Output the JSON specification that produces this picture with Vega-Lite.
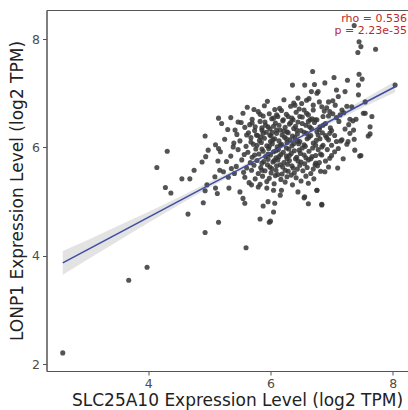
{
 "$schema": "https://vega.github.io/schema/vega-lite/v6.json",
 "width": 381,
 "height": 361,
 "autosize": "none",
 "padding": {"left": 46.5, "top": 10, "right": 0, "bottom": 39},
 "background": "white",
 "config": {"view": {"stroke": "#555555", "strokeWidth": 1}, "font": "DejaVu Sans"},
 "datasets": {
  "band": [
   {"x": 2.60, "fit": 3.87, "lo": 3.65, "hi": 4.09},
   {"x": 3.0, "fit": 4.11, "lo": 3.93, "hi": 4.29},
   {"x": 3.5, "fit": 4.41, "lo": 4.27, "hi": 4.55},
   {"x": 4.0, "fit": 4.71, "lo": 4.61, "hi": 4.81},
   {"x": 4.5, "fit": 5.01, "lo": 4.94, "hi": 5.08},
   {"x": 5.0, "fit": 5.31, "lo": 5.26, "hi": 5.36},
   {"x": 5.5, "fit": 5.60, "lo": 5.56, "hi": 5.64},
   {"x": 6.0, "fit": 5.90, "lo": 5.865, "hi": 5.935},
   {"x": 6.5, "fit": 6.20, "lo": 6.16, "hi": 6.24},
   {"x": 7.0, "fit": 6.50, "lo": 6.45, "hi": 6.55},
   {"x": 7.5, "fit": 6.80, "lo": 6.73, "hi": 6.87},
   {"x": 8.04, "fit": 7.12, "lo": 7.02, "hi": 7.22}
  ],
  "points": [
   {"x":2.60,"y":2.21},{"x":3.68,"y":3.55},{"x":3.98,"y":3.79},
   {"x":7.37,"y":8.25},{"x":7.45,"y":7.95},{"x":7.48,"y":7.86},{"x":7.43,"y":7.75},{"x":7.72,"y":7.81},
   {"x":6.69,"y":7.40},{"x":7.04,"y":7.29},{"x":7.45,"y":7.35},{"x":7.50,"y":7.26},{"x":7.26,"y":7.24},
   {"x":6.36,"y":7.15},{"x":6.56,"y":7.15},{"x":6.72,"y":7.16},{"x":6.89,"y":7.19},{"x":8.04,"y":7.15},{"x":7.44,"y":7.15},{"x":7.08,"y":7.06},{"x":7.22,"y":7.03},
   {"x":5.15,"y":6.54},{"x":4.31,"y":5.93},{"x":4.14,"y":5.63},{"x":4.93,"y":6.21},{"x":7.63,"y":6.25},{"x":7.66,"y":6.57},{"x":7.52,"y":6.63},{"x":7.46,"y":5.84},{"x":7.35,"y":6.49},
   {"x":4.65,"y":4.77},{"x":5.15,"y":4.62},{"x":4.93,"y":4.43},{"x":5.60,"y":4.15},{"x":4.90,"y":4.98},{"x":4.28,"y":5.26},{"x":4.37,"y":5.16},{"x":4.55,"y":5.42},{"x":4.68,"y":5.42},
   {"x":6.84,"y":4.95},{"x":6.62,"y":4.96},{"x":6.55,"y":5.07},{"x":5.83,"y":4.68},{"x":6.00,"y":4.64},{"x":6.05,"y":4.81},{"x":5.88,"y":4.92},{"x":5.96,"y":5.00},
   {"x":4.98,"y":5.95},{"x":4.94,"y":5.83},{"x":5.15,"y":5.98},{"x":4.88,"y":5.73},{"x":5.14,"y":5.75},{"x":4.75,"y":5.58},{"x":4.96,"y":5.31},{"x":5.10,"y":5.25},{"x":4.93,"y":5.20},{"x":5.13,"y":5.15},{"x":5.09,"y":5.46},{"x":5.17,"y":5.58},{"x":5.23,"y":5.55},{"x":5.31,"y":5.45},{"x":5.36,"y":5.61},{"x":5.32,"y":5.25},{"x":5.39,"y":6.01},{"x":5.41,"y":5.52},
   {"x":6.45,"y":6.91},{"x":6.51,"y":6.81},{"x":6.40,"y":6.78},{"x":6.59,"y":6.87},{"x":6.67,"y":7.03},{"x":6.76,"y":7.00},{"x":5.73,"y":6.70},{"x":5.83,"y":6.61},{"x":6.07,"y":6.70},{"x":6.10,"y":6.60},{"x":6.05,"y":6.54},{"x":5.47,"y":6.47},{"x":5.42,"y":6.32},{"x":5.75,"y":6.38},{"x":5.86,"y":6.32},{"x":5.96,"y":6.38},{"x":6.10,"y":6.32},{"x":6.21,"y":6.51},{"x":6.29,"y":6.57},{"x":6.37,"y":6.51},{"x":6.48,"y":6.57},{"x":6.59,"y":6.63},{"x":6.70,"y":6.69},{"x":6.65,"y":6.51},{"x":6.76,"y":6.51},{"x":5.61,"y":6.23},{"x":5.77,"y":6.23},{"x":5.99,"y":6.23},{"x":6.27,"y":6.29},{"x":6.43,"y":6.32},{"x":6.59,"y":6.26},{"x":6.76,"y":6.29},
   {"x":6.95,"y":6.84},{"x":7.11,"y":6.94},{"x":6.78,"y":7.03},{"x":7.44,"y":6.97},{"x":7.55,"y":6.84},{"x":7.33,"y":6.75},{"x":6.84,"y":6.75},{"x":7.06,"y":6.78},{"x":7.17,"y":6.69},{"x":6.97,"y":6.66},{"x":7.14,"y":6.60},{"x":6.86,"y":6.57},{"x":7.30,"y":6.52},{"x":7.55,"y":6.63},{"x":7.63,"y":6.38},{"x":7.36,"y":6.32},{"x":6.73,"y":6.51},{"x":6.81,"y":6.38},{"x":6.97,"y":6.26},{"x":6.78,"y":6.23},
   {"x":6.95,"y":6.14},{"x":7.08,"y":6.11},{"x":7.17,"y":6.14},{"x":7.27,"y":6.11},{"x":7.37,"y":6.15},{"x":7.60,"y":6.21},{"x":6.84,"y":6.01},{"x":7.00,"y":6.04},{"x":7.11,"y":5.98},{"x":7.38,"y":5.95},{"x":7.48,"y":5.85},{"x":7.19,"y":5.79},{"x":6.84,"y":5.86},{"x":6.97,"y":5.80},{"x":6.95,"y":5.64},{"x":6.89,"y":5.55},{"x":6.76,"y":5.21},{"x":6.84,"y":4.94},{"x":6.73,"y":5.68},
   {"x":5.98,"y":4.62},{"x":6.07,"y":4.97},{"x":5.55,"y":5.06},{"x":5.58,"y":4.97},{"x":5.50,"y":5.18},{"x":6.16,"y":5.12},{"x":6.18,"y":5.21},{"x":6.05,"y":5.21},{"x":5.94,"y":5.25},{"x":5.80,"y":5.27},{"x":5.69,"y":5.31},{"x":6.45,"y":5.18},{"x":6.56,"y":5.09},{"x":6.76,"y":5.21},
   {"x":5.95,"y":6.85},{"x":6.22,"y":6.88},{"x":6.38,"y":6.82},{"x":6.63,"y":6.90},{"x":6.80,"y":6.84},{"x":7.02,"y":6.86},
   {"x":5.62,"y":6.74},{"x":5.90,"y":6.77},{"x":6.15,"y":6.72},{"x":6.33,"y":6.76},{"x":6.47,"y":6.71},{"x":6.70,"y":6.78},{"x":6.92,"y":6.73},{"x":7.25,"y":6.76},
   {"x":5.55,"y":6.63},{"x":5.80,"y":6.66},{"x":5.98,"y":6.62},{"x":6.18,"y":6.68},{"x":6.26,"y":6.61},{"x":6.42,"y":6.65},{"x":6.55,"y":6.69},{"x":6.62,"y":6.60},{"x":6.88,"y":6.67},{"x":7.02,"y":6.62},{"x":7.20,"y":6.64},
   {"x":5.35,"y":6.55},{"x":5.70,"y":6.52},{"x":5.88,"y":6.58},{"x":6.02,"y":6.53},{"x":6.12,"y":6.57},{"x":6.35,"y":6.54},{"x":6.52,"y":6.56},{"x":6.68,"y":6.53},{"x":6.95,"y":6.58},{"x":7.08,"y":6.55},{"x":7.40,"y":6.52},
   {"x":5.20,"y":6.44},{"x":5.52,"y":6.46},{"x":5.66,"y":6.42},{"x":5.83,"y":6.48},{"x":5.92,"y":6.41},{"x":6.08,"y":6.45},{"x":6.20,"y":6.49},{"x":6.31,"y":6.43},{"x":6.45,"y":6.47},{"x":6.58,"y":6.41},{"x":6.72,"y":6.46},{"x":6.90,"y":6.44},{"x":7.12,"y":6.48},{"x":7.28,"y":6.42},
   {"x":5.30,"y":6.33},{"x":5.58,"y":6.37},{"x":5.74,"y":6.31},{"x":5.86,"y":6.36},{"x":5.99,"y":6.34},{"x":6.05,"y":6.39},{"x":6.16,"y":6.32},{"x":6.24,"y":6.37},{"x":6.38,"y":6.35},{"x":6.50,"y":6.31},{"x":6.64,"y":6.38},{"x":6.80,"y":6.33},{"x":6.98,"y":6.36},{"x":7.22,"y":6.34},
   {"x":5.45,"y":6.24},{"x":5.64,"y":6.27},{"x":5.79,"y":6.22},{"x":5.93,"y":6.28},{"x":6.01,"y":6.21},{"x":6.10,"y":6.26},{"x":6.19,"y":6.23},{"x":6.29,"y":6.27},{"x":6.36,"y":6.21},{"x":6.44,"y":6.25},{"x":6.55,"y":6.28},{"x":6.66,"y":6.22},{"x":6.85,"y":6.27},{"x":7.05,"y":6.22},{"x":7.30,"y":6.26},
   {"x":5.25,"y":6.15},{"x":5.50,"y":6.12},{"x":5.68,"y":6.18},{"x":5.82,"y":6.13},{"x":5.90,"y":6.17},{"x":6.00,"y":6.11},{"x":6.07,"y":6.16},{"x":6.14,"y":6.12},{"x":6.23,"y":6.19},{"x":6.32,"y":6.14},{"x":6.40,"y":6.18},{"x":6.48,"y":6.11},{"x":6.60,"y":6.16},{"x":6.75,"y":6.13},{"x":6.92,"y":6.18},{"x":7.15,"y":6.12},
   {"x":5.10,"y":6.05},{"x":5.40,"y":6.08},{"x":5.60,"y":6.02},{"x":5.72,"y":6.06},{"x":5.85,"y":6.09},{"x":5.94,"y":6.03},{"x":6.03,"y":6.07},{"x":6.11,"y":6.01},{"x":6.18,"y":6.06},{"x":6.27,"y":6.09},{"x":6.35,"y":6.03},{"x":6.46,"y":6.07},{"x":6.57,"y":6.02},{"x":6.70,"y":6.08},{"x":6.86,"y":6.04},{"x":7.25,"y":6.06},
   {"x":5.18,"y":5.92},{"x":5.47,"y":5.96},{"x":5.63,"y":5.91},{"x":5.76,"y":5.97},{"x":5.88,"y":5.93},{"x":5.97,"y":5.98},{"x":6.05,"y":5.92},{"x":6.13,"y":5.96},{"x":6.21,"y":5.91},{"x":6.30,"y":5.97},{"x":6.39,"y":5.94},{"x":6.52,"y":5.99},{"x":6.63,"y":5.93},{"x":6.78,"y":5.96},{"x":7.05,"y":5.92},
   {"x":5.35,"y":5.84},{"x":5.57,"y":5.87},{"x":5.70,"y":5.82},{"x":5.81,"y":5.88},{"x":5.92,"y":5.83},{"x":6.00,"y":5.86},{"x":6.09,"y":5.81},{"x":6.17,"y":5.87},{"x":6.26,"y":5.84},{"x":6.34,"y":5.89},{"x":6.43,"y":5.82},{"x":6.55,"y":5.86},{"x":6.68,"y":5.83},{"x":6.82,"y":5.88},{"x":7.00,"y":5.85},
   {"x":5.28,"y":5.74},{"x":5.53,"y":5.77},{"x":5.67,"y":5.72},{"x":5.78,"y":5.76},{"x":5.86,"y":5.71},{"x":5.96,"y":5.78},{"x":6.04,"y":5.73},{"x":6.12,"y":5.77},{"x":6.22,"y":5.72},{"x":6.31,"y":5.76},{"x":6.41,"y":5.79},{"x":6.50,"y":5.73},{"x":6.62,"y":5.77},{"x":6.74,"y":5.71},{"x":6.90,"y":5.75},
   {"x":5.44,"y":5.65},{"x":5.61,"y":5.62},{"x":5.73,"y":5.67},{"x":5.84,"y":5.63},{"x":5.95,"y":5.68},{"x":6.02,"y":5.61},{"x":6.10,"y":5.66},{"x":6.20,"y":5.64},{"x":6.28,"y":5.69},{"x":6.37,"y":5.62},{"x":6.48,"y":5.67},{"x":6.60,"y":5.63},{"x":6.77,"y":5.66},{"x":7.10,"y":5.62},
   {"x":5.56,"y":5.54},{"x":5.69,"y":5.58},{"x":5.80,"y":5.52},{"x":5.91,"y":5.57},{"x":6.01,"y":5.53},{"x":6.09,"y":5.58},{"x":6.19,"y":5.51},{"x":6.29,"y":5.56},{"x":6.39,"y":5.53},{"x":6.53,"y":5.57},{"x":6.66,"y":5.52},{"x":6.82,"y":5.56},
   {"x":5.58,"y":5.45},{"x":5.75,"y":5.42},{"x":5.87,"y":5.47},{"x":5.98,"y":5.43},{"x":6.08,"y":5.48},{"x":6.17,"y":5.41},{"x":6.27,"y":5.46},{"x":6.42,"y":5.44},{"x":6.58,"y":5.47},{"x":6.71,"y":5.42},
   {"x":5.65,"y":5.35},{"x":5.83,"y":5.32},{"x":5.94,"y":5.37},{"x":6.06,"y":5.33},{"x":6.24,"y":5.36},{"x":6.36,"y":5.31},{"x":6.50,"y":5.38},{"x":6.62,"y":5.34},
   {"x":5.91,"y":6.47},{"x":6.14,"y":6.41},{"x":6.33,"y":6.46},{"x":6.52,"y":6.44},{"x":6.67,"y":6.35},{"x":6.41,"y":6.39},{"x":6.22,"y":6.30},{"x":6.03,"y":6.28},
   {"x":5.84,"y":6.19},{"x":6.04,"y":6.14},{"x":6.26,"y":6.16},{"x":6.44,"y":6.12},{"x":6.63,"y":6.19},{"x":6.81,"y":6.16},{"x":6.16,"y":6.04},{"x":6.38,"y":6.07},
   {"x":6.55,"y":6.05},{"x":5.98,"y":6.02},{"x":5.78,"y":6.04},{"x":6.09,"y":5.94},{"x":6.26,"y":5.99},{"x":6.47,"y":5.95},{"x":6.69,"y":5.99},{"x":5.86,"y":5.97},
   {"x":5.96,"y":5.88},{"x":6.14,"y":5.83},{"x":6.31,"y":5.85},{"x":6.49,"y":5.89},{"x":6.74,"y":5.85},{"x":5.74,"y":5.86},{"x":6.06,"y":5.76},{"x":6.27,"y":5.79},
   {"x":6.45,"y":5.75},{"x":6.66,"y":5.79},{"x":5.89,"y":5.74},{"x":6.16,"y":5.68},{"x":6.35,"y":5.66},{"x":6.56,"y":5.70},{"x":5.99,"y":5.64},{"x":6.24,"y":5.58},
   {"x":6.44,"y":5.60},{"x":6.12,"y":5.50},{"x":6.34,"y":5.49},{"x":5.86,"y":5.58},{"x":6.62,"y":6.48},{"x":6.86,"y":6.41},{"x":7.00,"y":6.31},{"x":6.90,"y":6.22},
   {"x":5.70,"y":6.45},{"x":5.88,"y":6.26},{"x":5.68,"y":6.10},{"x":6.74,"y":6.04},{"x":6.93,"y":5.96},{"x":6.58,"y":5.81},{"x":6.80,"y":5.72},{"x":6.70,"y":5.60}
  ]
 },
 "layer": [
  {
   "data": {"name": "band"},
   "mark": {"type": "area", "color": "#c8c8c8", "opacity": 0.5},
   "encoding": {
    "x": {"field": "x", "type": "quantitative", "title": "SLC25A10 Expression Level (log2 TPM)",
     "scale": {"domain": [2.334, 8.57], "nice": false, "zero": false},
     "axis": {"values": [4, 6, 8], "format": "d", "grid": false, "domainColor": "#555555", "tickColor": "#555555", "tickSize": 4,
      "labelFontSize": 12.5, "labelColor": "#4d4d4d", "labelPadding": 2, "titleFontSize": 17, "titleColor": "#222222",
      "titleFontWeight": "normal", "titlePadding": 3}},
    "y": {"field": "lo", "type": "quantitative", "title": "LONP1 Expression Level (log2 TPM)",
     "scale": {"domain": [1.876, 8.535], "nice": false, "zero": false},
     "axis": {"values": [2, 4, 6, 8], "format": "d", "grid": false, "domainColor": "#555555", "tickColor": "#555555", "tickSize": 4,
      "labelFontSize": 12.5, "labelColor": "#4d4d4d", "labelPadding": 3, "titleFontSize": 17, "titleColor": "#222222",
      "titleFontWeight": "normal", "titlePadding": 5}},
    "y2": {"field": "hi"}
   }
  },
  {
   "data": {"name": "points"},
   "mark": {"type": "circle", "size": 26, "color": "#363636", "opacity": 0.85},
   "encoding": {
    "x": {"field": "x", "type": "quantitative", "title": "SLC25A10 Expression Level (log2 TPM)"},
    "y": {"field": "y", "type": "quantitative", "title": "LONP1 Expression Level (log2 TPM)"}
   }
  },
  {
   "data": {"name": "band"},
   "mark": {"type": "line", "color": "#3F4FA3", "strokeWidth": 1.6},
   "encoding": {
    "x": {"field": "x", "type": "quantitative", "title": "SLC25A10 Expression Level (log2 TPM)"},
    "y": {"field": "fit", "type": "quantitative", "title": "LONP1 Expression Level (log2 TPM)"}
   }
  },
  {
   "data": {"values": [{"label": "rho = 0.536\np = 2.23e-35"}]},
   "mark": {"type": "text", "align": "right", "baseline": "top", "lineBreak": "\n", "fontSize": 11, "lineHeight": 12, "color": "#B82A2A"},
   "encoding": {
    "x": {"datum": 8.234, "type": "quantitative", "title": "SLC25A10 Expression Level (log2 TPM)"},
    "y": {"datum": 8.48, "type": "quantitative", "title": "LONP1 Expression Level (log2 TPM)"},
    "text": {"field": "label"}
   }
  }
 ]
}
